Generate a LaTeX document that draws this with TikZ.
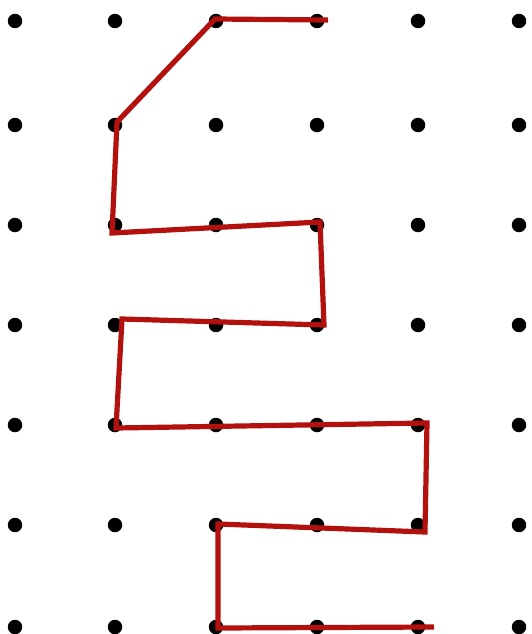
\documentclass[tikz,border=0pt]{standalone}
\definecolor{pathred}{HTML}{B3110E}
\tikzset{
  gdot/.style={circle,fill=black,inner sep=0pt,minimum size=14.5pt},
  redpath/.style={draw=pathred,line width=5.2pt,line join=miter,line cap=butt}
}
\begin{document}
\begin{tikzpicture}[x=1pt,y=-1pt]
\useasboundingbox (0,0) rectangle (532,634);
% dot grid
\foreach \c/\x in {1/15,2/115,3/216,4/317,5/418,6/519}{
  \foreach \r/\y in {1/21,2/125,3/225,4/325,5/425,6/525,7/627}{
    \node[gdot] (d\c\r) at (\x,\y) {};
  }
}
% path corners
\coordinate (p0) at (328,20);
\coordinate (p1) at (215,19);
\coordinate (p2) at (117,122);
\coordinate (p3) at (112,233);
\coordinate (p4) at (320,222);
\coordinate (p5) at (324,325);
\coordinate (p6) at (122,319);
\coordinate (p7) at (116,428);
\coordinate (p8) at (427,423);
\coordinate (p9) at (425,532);
\coordinate (p10) at (218,524);
\coordinate (p11) at (218,628);
\coordinate (p12) at (434,627);
\draw[redpath] (p0) -- (p1) -- (p2) -- (p3) -- (p4) -- (p5) -- (p6) -- (p7)
  -- (p8) -- (p9) -- (p10) -- (p11) -- (p12);
\end{tikzpicture}
\end{document}
